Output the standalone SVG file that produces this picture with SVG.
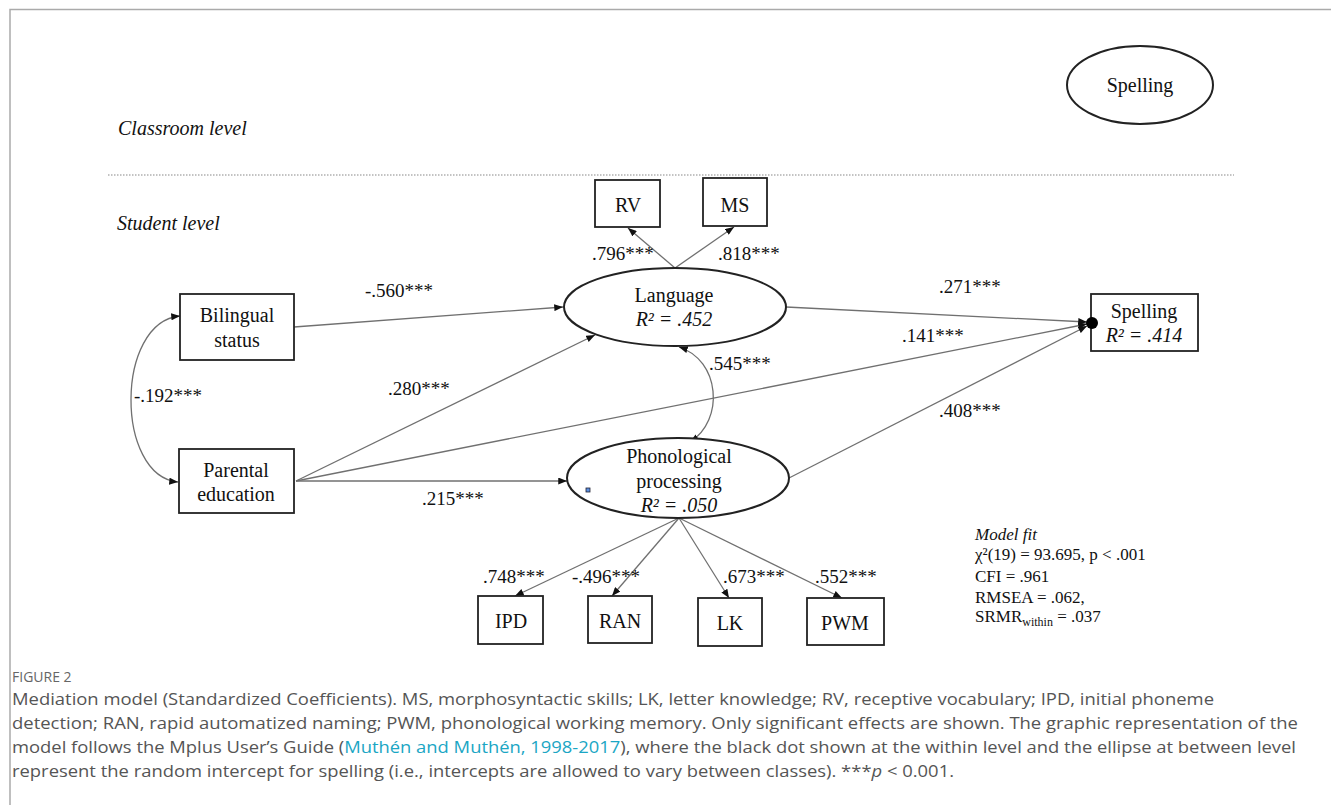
<svg xmlns="http://www.w3.org/2000/svg" width="1331" height="805" viewBox="0 0 1331 805">
<defs>
<marker id="ah" viewBox="0 0 10 8" refX="10" refY="4" markerWidth="9" markerHeight="7" markerUnits="userSpaceOnUse" orient="auto-start-reverse"><path d="M0,0 L10,4 L0,8 z" fill="#111"/></marker>
</defs>
<style>
.t{font-family:"Liberation Serif","Times New Roman",serif;fill:#111;font-size:20px}
.c{text-anchor:middle}
.i{font-style:italic}
.lab{font-family:"Liberation Serif","Times New Roman",serif;fill:#111;font-size:19px}
.fit{font-family:"Liberation Serif","Times New Roman",serif;fill:#111;font-size:17px}
.box{fill:#fff;stroke:#222;stroke-width:1.8}
.ell{fill:#fff;stroke:#222;stroke-width:2}
.ln{fill:none;stroke:#707070;stroke-width:1.3}
.arr{marker-end:url(#ah)}
.cap{font-family:"Open Sans","Noto Sans",sans-serif;fill:#555;font-size:17px}
</style>
<rect width="1331" height="805" fill="#fff"/>
<path d="M10,805 L10,9.5 L1331,9.5" fill="none" stroke="#aaa" stroke-width="1.5"/>

<text class="t i" x="118" y="135">Classroom level</text>
<line x1="108" y1="175" x2="1234" y2="175" stroke="#888" stroke-width="1.2" stroke-dasharray="1.5 1.5"/>
<text class="t i" x="117" y="230">Student level</text>

<g id="connectors">
<path class="ln" d="M180,316 C115,322 115,476 178,482" marker-start="url(#ah)" marker-end="url(#ah)"/>
<line class="ln arr" x1="294" y1="327" x2="563" y2="307"/>
<line class="ln arr" x1="296" y1="481" x2="595" y2="335"/>
<line class="ln arr" x1="296" y1="481" x2="567" y2="481"/>
<line class="ln arr" x1="296" y1="481" x2="1087" y2="324"/>
<line class="ln arr" x1="786" y1="307" x2="1087" y2="322"/>
<line class="ln arr" x1="789" y1="478" x2="1087" y2="326"/>
<path class="ln" d="M679,347 C720,360 725,420 690,442" marker-start="url(#ah)" marker-end="url(#ah)"/>
<line class="ln arr" x1="675" y1="268" x2="628" y2="228"/>
<line class="ln arr" x1="675" y1="268" x2="734" y2="227"/>
<line class="ln arr" x1="679" y1="518" x2="515" y2="596"/>
<line class="ln arr" x1="679" y1="518" x2="612" y2="596"/>
<line class="ln arr" x1="679" y1="518" x2="729" y2="598"/>
<line class="ln arr" x1="679" y1="518" x2="842" y2="598"/>
<text class="lab" x="365" y="297">-.560***</text>
<text class="lab" x="388" y="395">.280***</text>
<text class="lab" x="422" y="505">.215***</text>
<text class="lab" x="134" y="402">-.192***</text>
<text class="lab" x="592" y="260">.796***</text>
<text class="lab" x="718" y="260">.818***</text>
<text class="lab" x="939" y="293">.271***</text>
<text class="lab" x="902" y="342">.141***</text>
<text class="lab" x="709" y="370">.545***</text>
<text class="lab" x="939" y="417">.408***</text>
<text class="lab" x="483" y="583">.748***</text>
<text class="lab" x="572" y="583">-.496***</text>
<text class="lab" x="723" y="583">.673***</text>
<text class="lab" x="815" y="583">.552***</text>
</g>

<g id="spelling-between">
<ellipse class="ell" cx="1140" cy="85" rx="73" ry="39"/>
<text class="t c" x="1140" y="92">Spelling</text>
</g>
<g id="bilingual">
<rect class="box" x="180" y="294" width="114" height="66"/>
<text class="t c" x="237" y="322">Bilingual</text>
<text class="t c" x="237" y="347">status</text>
</g>
<g id="parental">
<rect class="box" x="179" y="449" width="115" height="64"/>
<text class="t c" x="236" y="477">Parental</text>
<text class="t c" x="236" y="501">education</text>
</g>
<g id="rv">
<rect class="box" x="595" y="180" width="65" height="47"/>
<text class="t c" x="628" y="212">RV</text>
</g>
<g id="ms">
<rect class="box" x="703" y="178" width="64" height="48"/>
<text class="t c" x="735" y="212">MS</text>
</g>
<g id="language">
<ellipse class="ell" cx="675" cy="307" rx="111" ry="39"/>
<text class="t c" x="674" y="302">Language</text>
<text class="t c i" x="674" y="326">R² = .452</text>
</g>
<g id="phonological">
<ellipse class="ell" cx="678" cy="478" rx="111" ry="40"/>
<text class="t c" x="679" y="463">Phonological</text>
<text class="t c" x="679" y="488">processing</text>
<text class="t c i" x="679" y="512">R² = .050</text>
<rect x="586" y="488" width="4" height="4" fill="#5b8fe0" stroke="#223" stroke-width="0.8"/>
</g>
<g id="spelling">
<rect class="box" x="1091" y="294" width="107" height="57"/>
<circle cx="1092" cy="323" r="6" fill="#000"/>
<text class="t c" x="1144" y="318">Spelling</text>
<text class="t c i" x="1144" y="342">R² = .414</text>
</g>
<g id="ipd">
<rect class="box" x="478" y="596" width="65" height="48"/>
<text class="t c" x="511" y="628">IPD</text>
</g>
<g id="ran">
<rect class="box" x="588" y="596" width="64" height="47"/>
<text class="t c" x="620" y="628">RAN</text>
</g>
<g id="lk">
<rect class="box" x="698" y="598" width="64" height="48"/>
<text class="t c" x="730" y="630">LK</text>
</g>
<g id="pwm">
<rect class="box" x="807" y="598" width="77" height="47"/>
<text class="t c" x="845" y="630">PWM</text>
</g>

<g id="model-fit">
<text class="fit i" x="975" y="540">Model fit</text>
<text class="fit" x="975" y="560">χ²(19) = 93.695,  p &lt; .001</text>
<text class="fit" x="975" y="582">CFI = .961</text>
<text class="fit" x="975" y="603">RMSEA = .062,</text>
<text class="fit" x="975" y="622">SRMR<tspan font-size="12" dy="4">within</tspan><tspan dy="-4"> = .037</tspan></text>
</g>

<g id="caption">
<text x="12" y="682" style="font-family:'Open Sans','Noto Sans',sans-serif;fill:#666;font-size:14px">FIGURE 2</text>
<text class="cap" x="12" y="705" textLength="1202" lengthAdjust="spacingAndGlyphs">Mediation model (Standardized Coefficients). MS, morphosyntactic skills; LK, letter knowledge; RV, receptive vocabulary; IPD, initial phoneme</text>
<text class="cap" x="12" y="729" textLength="1286" lengthAdjust="spacingAndGlyphs">detection; RAN, rapid automatized naming; PWM, phonological working memory. Only significant effects are shown. The graphic representation of the</text>
<text class="cap" x="12" y="753" textLength="1284" lengthAdjust="spacingAndGlyphs">model follows the Mplus User’s Guide (<tspan fill="#1ba6c4">Muthén and Muthén, 1998-2017</tspan>), where the black dot shown at the within level and the ellipse at between level</text>
<text class="cap" x="12" y="777" textLength="942" lengthAdjust="spacingAndGlyphs">represent the random intercept for spelling (i.e., intercepts are allowed to vary between classes). ***<tspan font-style="italic">p</tspan> &lt; 0.001.</text>
</g>
</svg>
